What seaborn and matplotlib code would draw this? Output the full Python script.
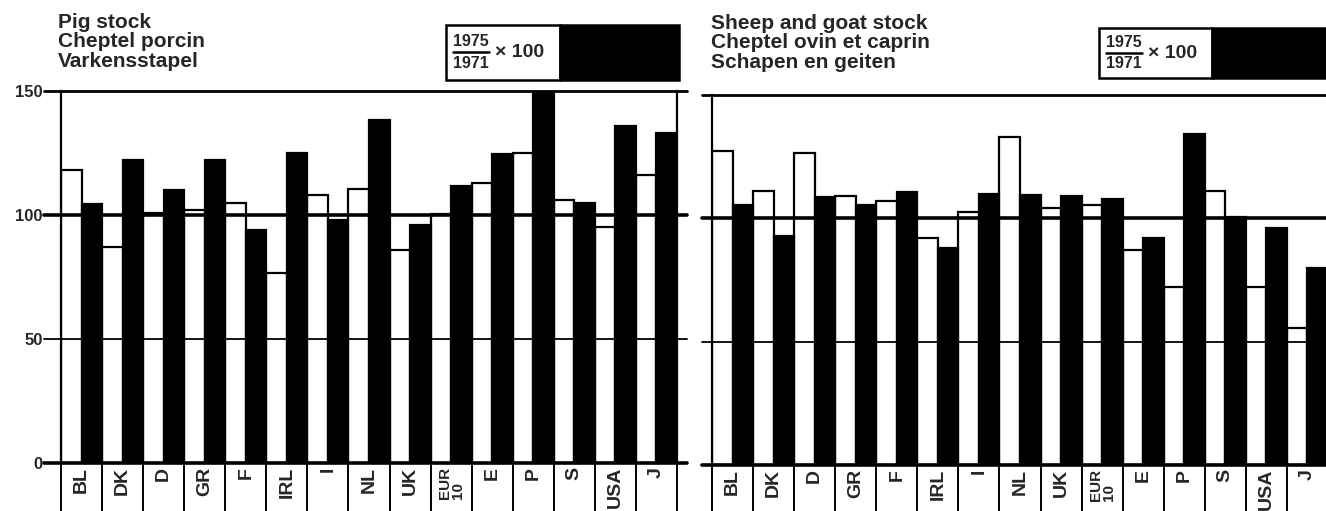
import matplotlib
matplotlib.use("Agg")
import matplotlib.pyplot as plt
from matplotlib.patches import Rectangle
from matplotlib.lines import Line2D
import pandas as pd
import seaborn as sns

# Country codes along the x axis
countries = ["BL", "DK", "D", "GR", "F", "IRL", "I", "NL", "UK", "EUR\n10",
             "E", "P", "S", "USA", "J"]

# Pig stock indices (white = 1975/1971 x 100, black = second index)
pig_white = [118, 87, 101, 102, 105, 76.5, 108, 110.5, 86, 100.5, 113, 125, 106, 95, 116]
pig_black = [104.5, 122, 110, 122, 94, 125, 98, 138.5, 96, 111.5, 124.5, 150, 105, 136, 133]

# Sheep and goat stock indices
sheep_white = [127.5, 111, 126.5, 109, 107, 92, 102.5, 133, 104, 105.5, 87, 72, 111, 72, 55.5]
sheep_black = [105.5, 93, 108.5, 105.5, 110.5, 88, 110, 109.5, 109, 108, 92, 134, 100.5, 96, 80]

y_ticks = [0, 50, 100, 150]
y_ticklabels = ["0", "50", "100", "150"]

pig_title = "Pig stock\nCheptel porcin\nVarkensstapel"
sheep_title = "Sheep and goat stock\nCheptel ovin et caprin\nSchapen en geiten"
frac_top, frac_bottom, frac_factor = "1975", "1971", "× 100"

series_names = ["1975/1971", "second"]

sns.set_style("white")
plt.rcParams["font.family"] = ["Liberation Sans", "DejaVu Sans"]
plt.rcParams["font.weight"] = "bold"

W, H = 1326, 511
fig = plt.figure(figsize=(W / 100, H / 100), dpi=100)


def fx(x):
    return x / W


def fy(y):
    return 1 - y / H


def add_px_axes(x0, x1, ytop, ybot):
    return fig.add_axes([fx(x0), fy(ybot), (x1 - x0) / W, (ybot - ytop) / H])


def long_frame(white, black):
    return pd.DataFrame({
        "country": countries * 2,
        "value": list(white) + list(black),
        "series": [series_names[0]] * len(countries) + [series_names[1]] * len(countries),
    })


def draw_panel(ax, white, black, left_ext, right_ext, show_labels, right_spine):
    df = long_frame(white, black)
    sns.barplot(data=df, x="country", y="value", hue="series",
                order=countries, hue_order=series_names,
                palette={series_names[0]: "white", series_names[1]: "black"},
                width=1.0, gap=0, edgecolor="black", linewidth=1.6,
                legend=False, ax=ax, errorbar=None, saturation=1)
    ax.set_xlim(-0.5, len(countries) - 0.5)
    ax.set_ylim(0, 150)
    ax.set_xlabel("")
    ax.set_ylabel("")
    ax.set_xticks([])
    ax.set_yticks(y_ticks)
    if show_labels:
        ax.set_yticklabels(y_ticklabels, fontsize=12, fontweight="bold")
    else:
        ax.set_yticklabels([])
    ax.tick_params(axis="y", length=0, pad=13)
    for side in ["top", "bottom"]:
        ax.spines[side].set_visible(False)
    ax.spines["left"].set_linewidth(1.6)
    ax.spines["left"].set_color("black")
    ax.spines["right"].set_visible(right_spine)
    ax.spines["right"].set_linewidth(1.6)
    ax.spines["right"].set_color("black")

    widths = {0: 2.6, 50: 1.3, 100: 2.6, 150: 2.0}
    for v in y_ticks:
        ax.axhline(v, xmin=-left_ext, xmax=1 + right_ext, color="black",
                   lw=widths[v], clip_on=False, zorder=4)

    # label cells under the baseline
    edges = [i - 0.5 for i in range(len(countries) + 1)]
    ax.vlines(edges, -0.15, 0, transform=ax.get_xaxis_transform(),
              color="black", lw=1.4, clip_on=False)
    for i, c in enumerate(countries):
        if "\n" in c:
            ax.text(i, -0.01, c, transform=ax.get_xaxis_transform(),
                    rotation=90, ha="center", va="top", fontsize=11,
                    fontweight="bold", linespacing=0.92, multialignment="left")
        else:
            ax.text(i, -0.01, c, transform=ax.get_xaxis_transform(),
                    rotation=90, ha="center", va="top", fontsize=14,
                    fontweight="bold")


axL = add_px_axes(61, 677, 91, 463)
axR = add_px_axes(712, 1328, 95, 465)

draw_panel(axL, pig_white, pig_black, 17 / 616, 10 / 616, True, True)
draw_panel(axR, sheep_white, sheep_black, 10 / 616, 0.0, False, False)

# panel titles
fig.text(fx(58), fy(13), pig_title, ha="left", va="top", fontsize=15,
         fontweight="bold", linespacing=1.03)
fig.text(fx(711), fy(14), sheep_title, ha="left", va="top", fontsize=15,
         fontweight="bold", linespacing=1.03)


def legend_box(x0, xmid, x1, ytop, ybot):
    fig.patches.append(Rectangle((fx(x0), fy(ybot)), (xmid - x0) / W, (ybot - ytop) / H,
                                 transform=fig.transFigure, facecolor="white",
                                 edgecolor="black", lw=1.8))
    fig.patches.append(Rectangle((fx(xmid), fy(ybot)), (x1 - xmid) / W, (ybot - ytop) / H,
                                 transform=fig.transFigure, facecolor="black",
                                 edgecolor="black", lw=1.8))
    ymid = (ytop + ybot) / 2
    cx = x0 + 25
    fig.text(fx(cx), fy(ymid - 3), frac_top, ha="center", va="bottom",
             fontsize=11.5, fontweight="bold")
    fig.lines.append(Line2D([fx(cx - 18), fx(cx + 18)], [fy(ymid), fy(ymid)],
                            transform=fig.transFigure, color="black", lw=1.8))
    fig.text(fx(cx), fy(ymid + 3), frac_bottom, ha="center", va="top",
             fontsize=11.5, fontweight="bold")
    fig.text(fx(cx + 24), fy(ymid), frac_factor, ha="left", va="center",
             fontsize=14, fontweight="bold")


legend_box(446, 560, 679, 25, 80)
legend_box(1099, 1212, 1330, 28, 78)

fig.savefig("out.png", dpi=100, facecolor="white")
